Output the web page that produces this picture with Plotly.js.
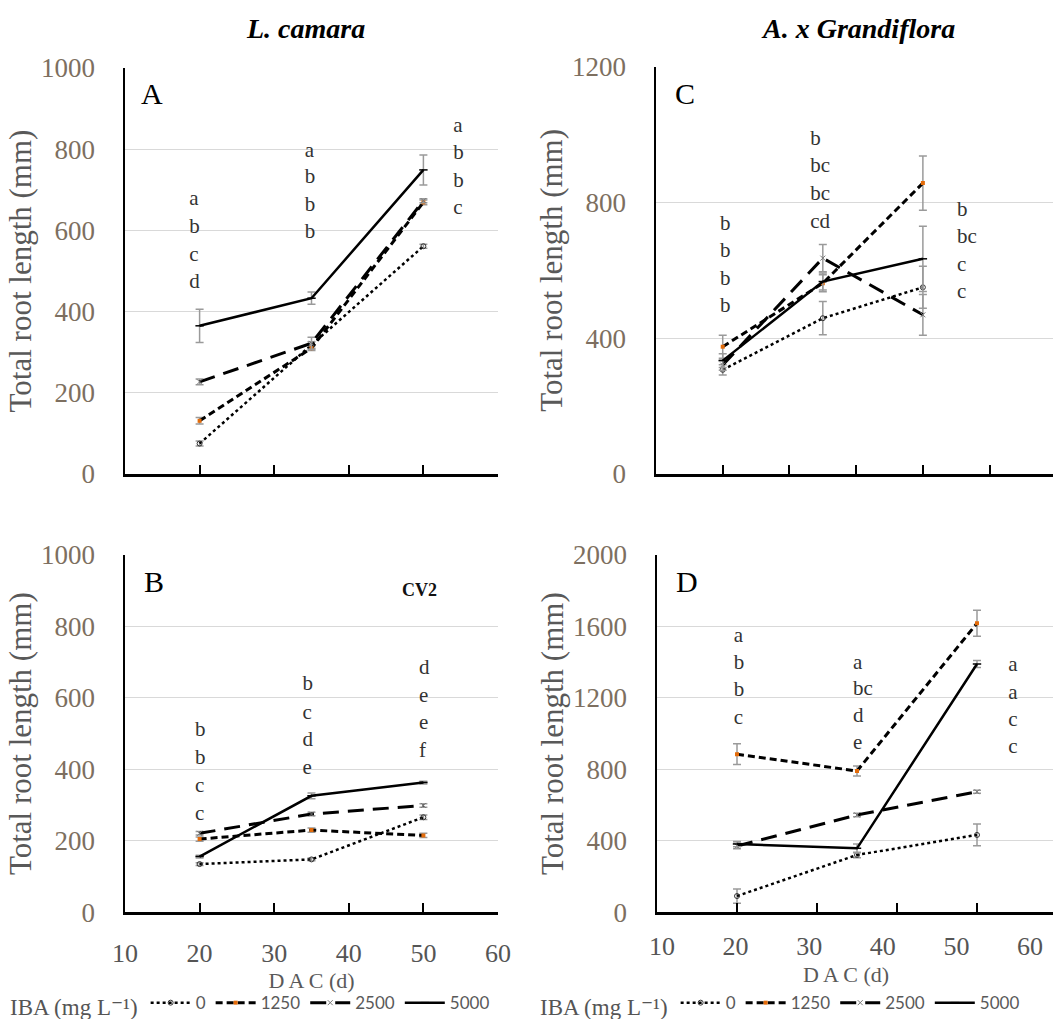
<!DOCTYPE html>
<html>
<head>
<meta charset="utf-8">
<script src="https://cdn.plot.ly/plotly-3.0.1.min.js"></script>
<style>html,body{margin:0;padding:0;background:#fff;}#chart{width:1055px;height:1019px;}</style>
</head>
<body>
<div id="chart"></div>
<script>
// ---- data ----
const days = [20, 35, 50];
const series = ["0", "1250", "2500", "5000"];

// Panel A: L. camara (cv1)
const A_0 = [75, 318, 561];
const A_1250 = [131, 310, 669];
const A_2500 = [227, 322, 673];
const A_5000 = [365, 433, 749];
const A_0_err = [6, 8, 5];
const A_1250_err = [8, 6, 6];
const A_2500_err = [7, 15, 5];
const A_5000_err = [41, 15, 37];

// Panel B: L. camara (CV2)
const B_0 = [135, 148, 266];
const B_1250 = [205, 230, 215];
const B_2500 = [221, 275, 299];
const B_5000 = [156, 326, 363];
const B_0_err = [4, 4, 6];
const B_1250_err = [6, 6, 6];
const B_2500_err = [5, 5, 5];
const B_5000_err = [4, 8, 4];

// Panel C: A. x Grandiflora
const C_0 = [307, 459, 550];
const C_1250 = [375, 562, 857];
const C_2500 = [321, 636, 469];
const C_5000 = [334, 567, 634];
const C_0_err = [15, 49, 62];
const C_1250_err = [34, 25, 80];
const C_2500_err = [15, 40, 60];
const C_5000_err = [20, 25, 96];

// Panel D: A. x Grandiflora
const D_0 = [91, 321, 433];
const D_1250 = [885, 791, 1618];
const D_2500 = [371, 545, 675];
const D_5000 = [382, 358, 1390];
const D_0_err = [40, 15, 61];
const D_1250_err = [58, 28, 73];
const D_2500_err = [15, 10, 8];
const D_5000_err = [15, 25, 20];

// significance letters
const A_let_x = [18.6, 18.6, 18.6, 18.6, 34.1, 34.1, 34.1, 34.1, 54.0, 54.0, 54.0, 54.0];
const A_let_y = [675, 606, 537, 470, 793, 729, 660, 593, 855, 790, 719, 653];
const A_let = ["a", "b", "c", "d", "a", "b", "b", "b", "a", "b", "b", "c"];
const B_let_x = [19.4, 19.4, 19.4, 19.4, 33.8, 33.8, 33.8, 33.8, 49.4, 49.4, 49.4, 49.4];
const B_let_y = [509, 431, 350, 273, 637, 557, 480, 401, 681, 604, 527, 450];
const B_let = ["b", "b", "c", "c", "b", "c", "d", "e", "d", "e", "e", "f"];
const C_let_x = [19.6, 19.6, 19.6, 19.6, 33.1, 33.1, 33.1, 33.1, 55.1, 55.1, 55.1, 55.1];
const C_let_y = [734, 654, 572, 492, 985, 905, 823, 741, 776, 695, 614, 533];
const C_let = ["b", "b", "b", "b", "b", "bc", "bc", "cd", "b", "bc", "c", "c"];
const D_let_x = [19.6, 19.6, 19.6, 19.6, 34.5, 34.5, 34.5, 34.5, 53.9, 53.9, 53.9, 53.9];
const D_let_y = [1543, 1394, 1239, 1083, 1394, 1245, 1095, 942, 1379, 1226, 1073, 922];
const D_let = ["a", "b", "b", "c", "a", "bc", "d", "e", "a", "a", "c", "c"];

const xTicks = [10, 20, 30, 40, 50, 60];

// ---- styles ----
const SERIF = "'Liberation Serif', 'DejaVu Serif', serif";
const SANS = "Lato, 'Liberation Sans', sans-serif";
const styles = {
  "0":    {line: {color: "#000", width: 2.5, dash: "dot"}, marker: {symbol: "circle-open", size: 5, color: "#333", line: {width: 1, color: "#333"}}},
  "1250": {line: {color: "#000", width: 3, dash: "7px,4px"}, marker: {symbol: "square", size: 4, color: "#e46c0a"}},
  "2500": {line: {color: "#000", width: 3, dash: "16px,9px"}, marker: {symbol: "x-thin", size: 5, color: "#777", line: {width: 1, color: "#777"}}},
  "5000": {line: {color: "#000", width: 2.5}, marker: {symbol: "line-ew", size: 6, color: "#000", line: {width: 1.5, color: "#000"}}}
};

const traces = [];
function addPanel(vals, errs, xa, ya, legendName, showLeg) {
  series.forEach((s, i) => {
    traces.push({
      type: "scatter", mode: "lines+markers",
      x: days, y: vals[i], xaxis: xa, yaxis: ya,
      name: s, legend: legendName, showlegend: showLeg,
      line: styles[s].line, marker: styles[s].marker,
      error_y: {type: "data", array: errs[i], visible: true, color: "#9a9a9a", thickness: 1.5, width: 4},
      hoverinfo: "x+y+name"
    });
  });
}
addPanel([A_0, A_1250, A_2500, A_5000], [A_0_err, A_1250_err, A_2500_err, A_5000_err], "x", "y", "legend", true);
addPanel([B_0, B_1250, B_2500, B_5000], [B_0_err, B_1250_err, B_2500_err, B_5000_err], "x2", "y2", "legend", false);
addPanel([C_0, C_1250, C_2500, C_5000], [C_0_err, C_1250_err, C_2500_err, C_5000_err], "x3", "y3", "legend2", true);
addPanel([D_0, D_1250, D_2500, D_5000], [D_0_err, D_1250_err, D_2500_err, D_5000_err], "x4", "y4", "legend2", false);

function addLetters(xs, ys, ts, xa, ya) {
  traces.push({
    type: "scatter", mode: "text", x: xs, y: ys, text: ts, xaxis: xa, yaxis: ya,
    textposition: "middle right", showlegend: false, hoverinfo: "skip",
    textfont: {family: SERIF, size: 21, color: "#333"}
  });
}
addLetters(A_let_x, A_let_y, A_let, "x", "y");
addLetters(B_let_x, B_let_y, B_let, "x2", "y2");
addLetters(C_let_x, C_let_y, C_let, "x3", "y3");
addLetters(D_let_x, D_let_y, D_let, "x4", "y4");
// empty trace to carry the D tick-label axis
traces.push({type: "scatter", x: [], y: [], xaxis: "x5", yaxis: "y5", showlegend: false, hoverinfo: "skip"});

// ---- layout ----
const W = 1055, H = 1019;
const px = v => v / W;
const py = v => 1 - v / H;

function yAx(dom, range, dtick, anchor) {
  return {
    domain: [py(dom[1]), py(dom[0])], range: range, dtick: dtick, anchor: anchor,
    showline: true, linecolor: "#000", linewidth: 2.5,
    showgrid: true, gridcolor: "#d9d9d9", gridwidth: 1, zeroline: false,
    ticks: "", ticklabelstandoff: 22,
    tickfont: {family: SERIF, size: 27, color: "#7d6f60"},
    title: {text: "Total root length (mm)", font: {family: SERIF, size: 31, color: "#595959"}, standoff: 0},
    fixedrange: true
  };
}
function xAx(dom, range, anchor, labels) {
  return {
    domain: [px(dom[0]), px(dom[1])], range: range, anchor: anchor,
    tickvals: xTicks, showline: true, linecolor: "#000", linewidth: 2.5,
    ticks: "inside", ticklen: 9, tickwidth: 2, tickcolor: "#000",
    showgrid: false, zeroline: false, showticklabels: labels,
    ticklabelstandoff: 16,
    tickfont: {family: SERIF, size: 26, color: "#555"},
    fixedrange: true
  };
}
const xTitle = {text: "D A C (d)", font: {family: SERIF, size: 22, color: "#595959"}, standoff: 6};

const legendBase = {
  orientation: "h", xanchor: "left", y: -0.006, yanchor: "bottom",
  bgcolor: "rgba(0,0,0,0)", font: {family: SANS, size: 17, color: "#595959"},
  title: {text: "IBA (mg L⁻¹)", side: "left", font: {family: SERIF, size: 23, color: "#555"}},
  itemwidth: 40, tracegroupgap: 0
};

function ann(text, xref, yref, x, y, size, extra) {
  return Object.assign({text: text, xref: xref, yref: yref, x: x, y: y, xanchor: "center", yanchor: "middle",
    showarrow: false, font: {family: SERIF, size: size, color: "#000"}}, extra || {});
}

const layout = {
  width: W, height: H,
  margin: {l: 0, r: 0, t: 0, b: 0, autoexpand: false},
  paper_bgcolor: "#fff", plot_bgcolor: "rgba(0,0,0,0)",
  showlegend: true,
  xaxis: xAx([125, 498], [10, 60], "y", false),
  yaxis: yAx([68, 474], [0, 1000], 200, "x"),
  xaxis2: Object.assign(xAx([125, 498], [10, 60], "y2", true), {title: xTitle}),
  yaxis2: yAx([555, 912.3], [0, 1000], 200, "x2"),
  xaxis3: xAx([656, 1053], [10, 69.5], "y3", false),
  yaxis3: yAx([66.7, 474], [0, 1200], 400, "x3"),
  xaxis4: xAx([657, 1053], [10, 59.5], "y4", false),
  yaxis4: yAx([555, 912.3], [0, 2000], 400, "x4"),
  xaxis5: {
    domain: [px(662), px(1030)], range: [10, 60], anchor: "y5", tickvals: xTicks,
    showline: false, ticks: "", showgrid: false, zeroline: false,
    ticklabelstandoff: 16, tickfont: {family: SERIF, size: 26, color: "#555"},
    title: xTitle, fixedrange: true
  },
  yaxis5: {domain: [py(912.3), py(555)], range: [0, 2000], anchor: "x5", visible: false, fixedrange: true},
  legend: Object.assign({}, legendBase, {x: px(8)}),
  legend2: Object.assign({}, legendBase, {x: px(538)}),
  annotations: [
    ann("<b><i>L. camara</i></b>", "paper", "paper", px(305), py(28), 28),
    ann("<b><i>A. x Grandiflora</i></b>", "paper", "paper", px(858), py(28), 28),
    ann("A", "x domain", "y domain", 0.072, 0.938, 30),
    ann("B", "x2 domain", "y2 domain", 0.078, 0.925, 30),
    ann("C", "x3 domain", "y3 domain", 0.073, 0.935, 30),
    ann("D", "x4 domain", "y4 domain", 0.075, 0.925, 30),
    ann("<b>CV2</b>", "x2 domain", "y2 domain", 0.79, 0.902, 18, {font: {family: SERIF, size: 18, color: "#111"}})
  ]
};

Plotly.newPlot("chart", traces, layout, {displayModeBar: false, staticPlot: true});
</script>
</body>
</html>
